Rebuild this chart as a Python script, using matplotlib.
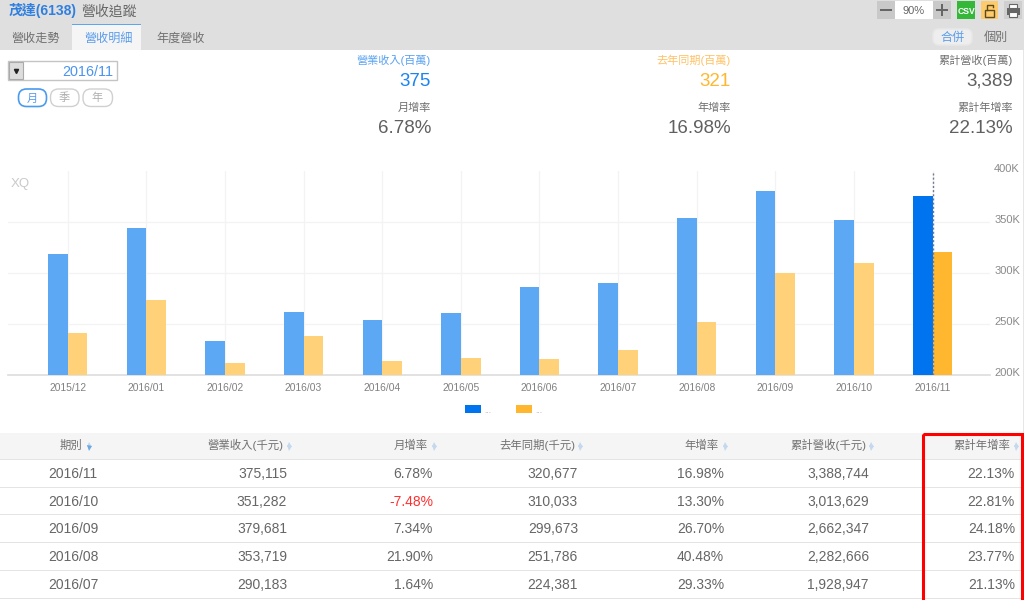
import matplotlib
matplotlib.use("Agg")
import matplotlib.pyplot as plt
from matplotlib.patches import Rectangle, FancyBboxPatch
from matplotlib.transforms import ScaledTranslation
import numpy as np

plt.rcParams['font.family'] = ['Liberation Sans', 'Noto Sans CJK TC', 'DejaVu Sans']

# ---- data ----
months = ['2015/12', '2016/01', '2016/02', '2016/03', '2016/04', '2016/05',
          '2016/06', '2016/07', '2016/08', '2016/09', '2016/10', '2016/11']
revenue = [318.8, 343.9, 232.9, 261.8, 253.4, 260.5, 285.6, 290.2, 353.7, 379.7, 351.3, 375.1]
last_year = [240.7, 273.6, 211.7, 237.8, 213.3, 216.9, 215.9, 224.4, 251.8, 299.7, 310.0, 320.7]
y_ticks = [200, 250, 300, 350, 400]
y_labels = ['200K', '250K', '300K', '350K', '400K']

headers = ['期別', '營業收入(千元)', '月增率', '去年同期(千元)', '年增率', '累計營收(千元)', '累計年增率']
periods = ['2016/11', '2016/10', '2016/09', '2016/08', '2016/07']
col_rev = ['375,115', '351,282', '379,681', '353,719', '290,183']
col_mom = ['6.78%', '-7.48%', '7.34%', '21.90%', '1.64%']
col_last = ['320,677', '310,033', '299,673', '251,786', '224,381']
col_yoy = ['16.98%', '13.30%', '26.70%', '40.48%', '29.33%']
col_cum = ['3,388,744', '3,013,629', '2,662,347', '2,282,666', '1,928,947']
col_cumyoy = ['22.13%', '22.81%', '24.18%', '23.77%', '21.13%']

BLUE, BLUE_L = '#0074ee', '#5ca8f4'
ORANGE, ORANGE_L = '#ffb730', '#ffd27a'
TXT = '#666666'
W, H = 1024, 600

fig = plt.figure(figsize=(W / 100, H / 100), dpi=100, facecolor='white')

# ---- pixel-space page layer ----
ui = fig.add_axes([0, 0, 1, 1], zorder=1)
ui.set_xlim(0, W)
ui.set_ylim(H, 0)
ui.axis('off')


def rect(x0, y0, x1, y1, fc, ec='none', lw=0, z=1):
    ui.add_patch(Rectangle((x0, y0), x1 - x0, y1 - y0, fc=fc, ec=ec, lw=lw, zorder=z))


def pill(x0, y0, x1, y1, fc, ec, lw=1.0, r=8, z=2):
    ui.add_patch(FancyBboxPatch((x0 + r, y0 + r), x1 - x0 - 2 * r, y1 - y0 - 2 * r,
                                boxstyle=f'round,pad={r},rounding_size={r}',
                                fc=fc, ec=ec, lw=lw, zorder=z))


def T(x, y, s, size=10, color=TXT, ha='right', **kw):
    # anchored on the baseline so Latin and CJK strings share one visual centre
    ui.text(x, y + 0.36 * size * 100 / 72, s, fontsize=size, color=color, ha=ha,
            va='baseline', zorder=5, **kw)


# header band
rect(0, 0, W, 50, '#dfdfdf')
rect(72, 24, 141, 50, '#f5f5f5')
rect(72, 23.5, 141, 25, '#5ba6ee', z=2)
T(9, 10.5, '茂達(6138)', 10, '#2f7fe0', 'left', fontweight='bold')
T(81, 10.5, '營收追蹤', 10, '#666666', 'left')
T(11, 37.5, '營收走勢', 8.7, '#707070', 'left')
T(84, 37.5, '營收明細', 8.7, '#5a9cec', 'left')
T(156, 37.5, '年度營收', 8.7, '#707070', 'left')

# zoom and tool buttons
rect(877, 1, 895, 19, '#c9c9c9')
rect(895, 1, 933, 19, 'white')
rect(933, 1, 951, 19, '#c9c9c9')
rect(880, 9, 892, 11, '#666666', z=3)
rect(936, 9, 948, 11, '#666666', z=3)
rect(941, 4, 943, 16, '#666666', z=3)
T(914, 10, '90%', 8, '#666666', 'center')
rect(957, 1, 975, 19, '#35b83a')
T(966, 10.5, 'CSV', 6.2, 'white', 'center', fontweight='bold')
rect(981, 1, 998, 19, '#fdcb6b')
rect(985, 10, 994, 17, '#fdcb6b', ec='#5b4a20', lw=1.0, z=3)
ui.plot([986.5, 986.5, 992.5, 992.5], [10, 5, 5, 7], color='#5b4a20', lw=1.0, zorder=3)
rect(1004, 1, 1022, 19, '#cfcfcf')
rect(1006.5, 8, 1019.5, 15, '#666666', z=3)
rect(1009, 4, 1017, 8, 'white', ec='#666666', lw=0.8, z=3)
rect(1009, 12, 1017, 17, 'white', ec='#666666', lw=0.8, z=4)
pill(933, 29, 972, 45, '#eeeeee', '#e8e8e8', 1.0, r=6)
T(952.5, 37, '合併', 8.7, '#5a9cec', 'center')
T(995.5, 37, '個別', 8.7, '#707070', 'center')

# date selector
rect(8, 61, 117, 80, 'white', ec='#c4c4c4', lw=1.0)
rect(9, 62, 23, 79, '#dddddd', ec='#aaaaaa', lw=0.8, z=2)
ui.plot([15.8], [71], marker='v', ms=3, color='#222222', zorder=3)
T(113, 71, '2016/11', 10.4, '#4a94f0')
pill(18.5, 89, 46.5, 106.5, 'white', '#4a9af0', 1.2)
pill(50.5, 89, 79, 106.5, 'white', '#d0d0d0', 1.0)
pill(83, 89, 112.5, 106.5, 'white', '#d0d0d0', 1.0)
T(32.5, 97.5, '月', 8, '#5a9cec', 'center')
T(64.5, 97.5, '季', 8, '#b0b0b0', 'center')
T(97.5, 97.5, '年', 8, '#b0b0b0', 'center')

# summary blocks
summary = [(431, '營業收入(百萬)', '375', '月增率', '6.78%', '#5aa2f2', '#1a84f0'),
           (731, '去年同期(百萬)', '321', '年增率', '16.98%', '#ffc266', ORANGE),
           (1013, '累計營收(百萬)', '3,389', '累計年增率', '22.13%', '#707070', '#606060')]
for x, a, b, c, d, ca, cb in summary:
    T(x, 60, a, 8, ca)
    T(x, 79, b, 13.5, cb)
    T(x, 106.5, c, 8, '#707070')
    T(x, 126, d, 13.5, '#606060')

# legend
rect(465, 405, 481, 412.5, BLUE)
rect(516, 405, 532, 412.5, ORANGE)
T(484, 410, '...', 6, '#aaaaaa', 'left')
T(535, 410, '...', 6, '#aaaaaa', 'left')

# table
rect(0, 433, W, 459, '#f5f5f5')
rows_y = [472.5, 500.5, 528, 556, 584]
for yl in [459, 487, 514.5, 542.5, 570, 598]:
    rect(0, yl - 0.5, W, yl + 0.7, '#e4e4e4', z=2)
hdr_right = [82, 284, 428, 575, 719, 866, 1010]
icon_x = [89, 289, 433.5, 580, 725, 870.5, 1016]
for h, xr, xi in zip(headers, hdr_right, icon_x):
    T(xr, 445, h, 8.2, '#707070')
    ui.plot([xi], [444], marker='^', ms=3.6, color='#c4d9ee', mew=0, zorder=5)
    ui.plot([xi], [448], marker='v', ms=3.6,
            color='#6ba9e0' if xr == 82 else '#c4d9ee', mew=0, zorder=5)

columns = [col_rev, col_mom, col_last, col_yoy, col_cum, col_cumyoy]
col_right = [287, 433, 578, 724, 869, 1015]
for i, yc in enumerate(rows_y):
    T(73, yc, periods[i], 10, TXT, 'center')
    for col, xr in zip(columns, col_right):
        v = col[i]
        T(xr, yc, v, 10, '#ff3030' if v.startswith('-') else TXT)

# red highlight box
ui.add_patch(Rectangle((923.2, 434.2), 98.3, 170, fc='none', ec='#ff0000', lw=2.2, zorder=6))
rect(1022.5, 50, 1024, 433, '#e6e6e6')

# ---- chart ----
ax = fig.add_axes([8 / W, 1 - 375 / H, (990 - 8) / W, (375 - 170.5) / H], zorder=2)
ax.patch.set_alpha(0)
x = np.arange(len(months))
ax.set_xlim(-0.76, 11.73)
ax.set_ylim(200, 400)
bw = 0.25
blue_cols = [BLUE_L] * (len(months) - 1) + [BLUE]
orange_cols = [ORANGE_L] * (len(months) - 1) + [ORANGE]
ax.bar(x - bw / 2, np.array(revenue) - 200, bw, bottom=200, color=blue_cols, zorder=3)
ax.bar(x + bw / 2, np.array(last_year) - 200, bw, bottom=200, color=orange_cols, zorder=3)

ax.set_xticks(x, months)
ax.set_yticks(y_ticks, y_labels)
ax.yaxis.tick_right()
ax.tick_params(axis='x', length=0, pad=6, labelsize=7.4, labelcolor='#808080')
ax.tick_params(axis='y', length=0, pad=3, labelsize=8, labelcolor='#8a8a8a')
ax.grid(True, color='#f3f3f3', lw=0.9, zorder=0)
for tick in ax.yaxis.get_major_ticks():
    if tick.get_loc() in (200, 400):
        tick.gridline.set_visible(False)
    tick.label2.set_transform(tick.label2.get_transform()
                              + ScaledTranslation(0, 2 / 72, fig.dpi_scale_trans))
for s in ['top', 'left', 'right']:
    ax.spines[s].set_visible(False)
ax.spines['bottom'].set_color('#dddddd')
ax.spines['bottom'].set_linewidth(1.2)
ax.axvline(x[-1], color='#6f7c90', lw=1.0, ls=(0, (1.5, 1.5)), zorder=4)
T(11, 182, 'XQ', 9.5, '#c9c9c9', 'left')

fig.savefig('out.png', dpi=100, facecolor='white')
